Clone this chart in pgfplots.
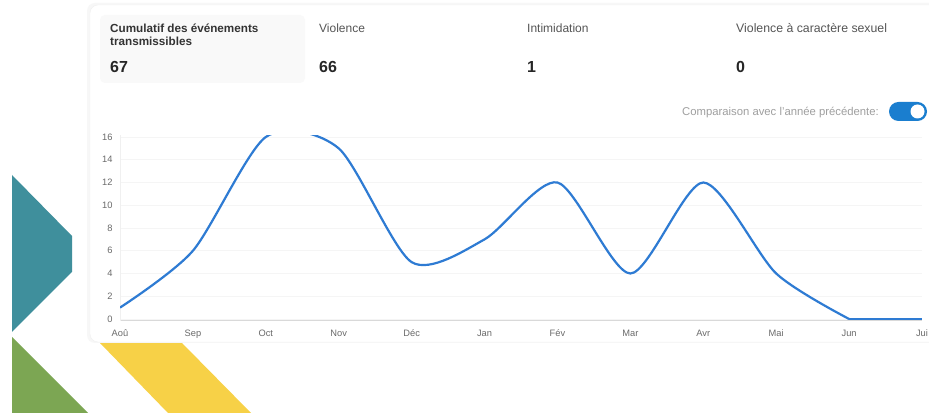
\documentclass[border=0pt]{standalone}
\usepackage{pgfplots}
\pgfplotsset{compat=1.18}
\usepackage{fontspec}
\setmainfont{Liberation Sans}
\definecolor{linecol}{HTML}{2E7BD3}
\definecolor{teal1}{HTML}{3F8F9C}
\definecolor{green1}{HTML}{7CA653}
\definecolor{yellow1}{HTML}{F7D147}
\definecolor{toggle}{HTML}{1A7ECF}
\definecolor{ticktxt}{HTML}{6A6A6A}
\definecolor{headtxt}{HTML}{333333}
\definecolor{labtxt}{HTML}{555555}
\begin{document}
\begin{tikzpicture}[x=1pt,y=1pt]
\useasboundingbox (0,0) rectangle (929,414);
\clip (0,0) rectangle (929,414);
\fill[white] (0,0) rectangle (929,414);

% decorative shapes
\fill[teal1] (12,239) -- (72,178) -- (72,142) -- (12,82) -- cycle;
\fill[green1] (12,77) -- (88,1) -- (12,1) -- cycle;
\fill[yellow1] (100,71) -- (182,71) -- (251,1) -- (168,1) -- cycle;

% card
\fill[gray!6, rounded corners=8pt] (87,71) rectangle (945,411);
\filldraw[draw=gray!12, fill=white, rounded corners=8pt] (90,72) rectangle (945,409);
\fill[gray!5, rounded corners=5pt] (100,331) rectangle (305,399);

% header texts
\node[anchor=base west, inner sep=0, font=\fontsize{11.7}{13}\selectfont\bfseries, text=headtxt] at (110,381) {Cumulatif des événements};
\node[anchor=base west, inner sep=0, font=\fontsize{11.7}{13}\selectfont\bfseries, text=headtxt] at (110,368) {transmissibles};
\node[anchor=base west, inner sep=0, font=\fontsize{16}{18}\selectfont\bfseries, text=black!85] at (110,341) {67};
\node[anchor=base west, inner sep=0, font=\fontsize{12}{14}\selectfont, text=labtxt] at (319,381) {Violence};
\node[anchor=base west, inner sep=0, font=\fontsize{16}{18}\selectfont\bfseries, text=black!85] at (319,341) {66};
\node[anchor=base west, inner sep=0, font=\fontsize{12}{14}\selectfont, text=labtxt] at (527,381) {Intimidation};
\node[anchor=base west, inner sep=0, font=\fontsize{16}{18}\selectfont\bfseries, text=black!85] at (527,341) {1};
\node[anchor=base west, inner sep=0, font=\fontsize{12.3}{14}\selectfont, text=labtxt] at (736,381) {Violence à caractère sexuel};
\node[anchor=base west, inner sep=0, font=\fontsize{16}{18}\selectfont\bfseries, text=black!85] at (736,341) {0};

% toggle
\node[anchor=base east, inner sep=0, font=\fontsize{11.3}{13}\selectfont, text=gray!75] at (879,298) {Comparaison avec l'année précédente:};
\fill[toggle, rounded corners=9.5pt] (889,293) rectangle (927,312);
\fill[white] (917.5,302.5) circle (7);

\begin{axis}[
  at={(120pt,93.3pt)}, anchor=south west,
  scale only axis,
  width=802pt, height=185.4pt,
  xmin=0, xmax=11, ymin=-0.15, ymax=16.15,
  xtick={0,...,11},
  xticklabels={Aoû,Sep,Oct,Nov,Déc,Jan,Fév,Mar,Avr,Mai,Jun,Jui},
  ytick={0,2,...,16},
  major tick length=0pt,
  axis x line*=bottom, axis y line*=left,
  x axis line style={draw=gray!30, line width=0.8pt},
  y axis line style={draw=gray!12, line width=0.6pt},
  ymajorgrids, grid style={draw=gray!8, line width=0.5pt},
  tick label style={font=\fontsize{9.3}{11}\selectfont, text=ticktxt},
  xticklabel style={yshift=-5pt, text height=7pt, text depth=2pt},
  yticklabel style={xshift=-4pt},
  /pgf/number format/assume math mode=true,
  clip=true,
]
% Aoû -> Jun, smoothed
\addplot[linecol, line width=2.2pt, smooth, tension=0.45] coordinates {
  (0,1) (1,6) (2,16) (3,15) (4,5) (5,7) (6,12) (7,4) (8,12) (9,4) (10,0)
};
% Jun -> Jui, flat at zero
\addplot[linecol, line width=2.2pt] coordinates {
  (10,0) (11,0)
};
\end{axis}
\end{tikzpicture}
\end{document}
